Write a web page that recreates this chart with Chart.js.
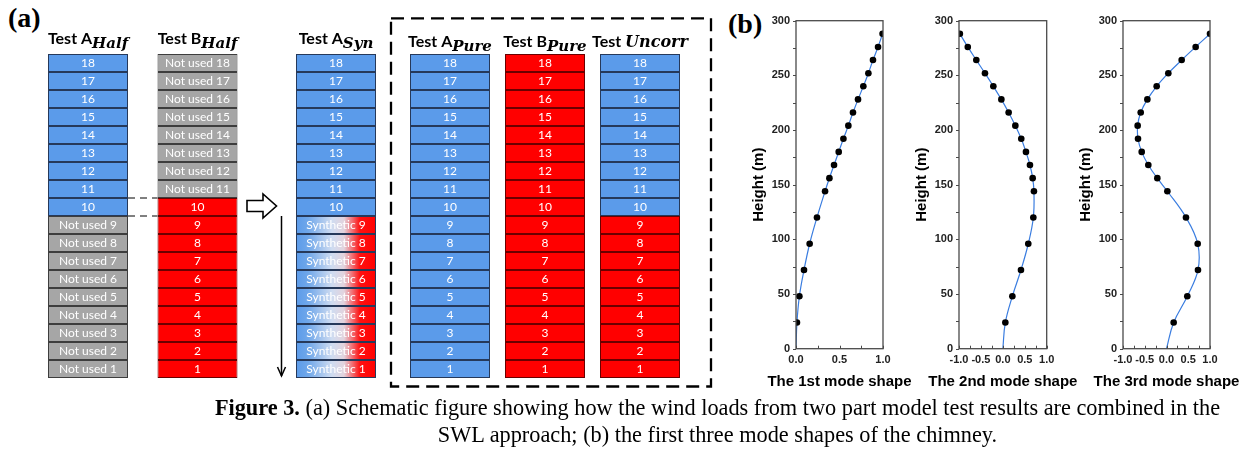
<!DOCTYPE html>
<html><head><meta charset="utf-8">
<script src="https://cdn.jsdelivr.net/npm/chart.js@4.4.0/dist/chart.umd.min.js"></script>
<style>
html,body{margin:0;padding:0;background:#fff;}
#wrap{position:relative;width:1256px;height:456px;overflow:hidden;background:#fff;}
canvas{position:absolute;top:0;}
.plabel{position:absolute;font-family:"Liberation Serif","Times New Roman",serif;font-weight:bold;font-size:28px;line-height:28px;color:#000;}
#cap{position:absolute;left:178px;width:1079px;top:395px;text-align:center;white-space:nowrap;font-family:"Liberation Serif","Times New Roman",serif;font-size:22.3px;line-height:26.5px;color:#000;}
</style></head>
<body><div id="wrap">
<div class="plabel" style="left:8px;top:4px;">(a)</div>
<div class="plabel" style="left:728px;top:10px;">(b)</div>
<canvas id="aLeft" width="260" height="395" style="left:0px;"></canvas>
<canvas id="aMid" width="150" height="395" style="left:236px;"></canvas>
<canvas id="aRight" width="335" height="395" style="left:385px;"></canvas>
<canvas id="m1" width="190" height="400" style="left:740px;"></canvas>
<canvas id="m2" width="190" height="400" style="left:903px;"></canvas>
<canvas id="m3" width="189" height="400" style="left:1067px;"></canvas>
<div id="cap"><b>Figure 3.</b> (a) Schematic figure showing how the wind loads from two part model test results are combined in the<br>SWL approach; (b) the first three mode shapes of the chimney.</div>
</div>
<script>
// ---------- data: schematic (a) ----------
const rowNumbers = [1,2,3,4,5,6,7,8,9,10,11,12,13,14,15,16,17,18];
// cell types per row (row 1 first): A = Test A data, B = Test B data, N = not used, S = synthetic
const halfHeaders = ['Test A','Test B'];
const halfSubs = ['Half','Half'];
const cellsAHalf = ['N','N','N','N','N','N','N','N','N','A','A','A','A','A','A','A','A','A'];
const cellsBHalf = ['B','B','B','B','B','B','B','B','B','B','N','N','N','N','N','N','N','N'];
const synHeaders = ['Test A'];
const synSubs = ['Syn'];
const cellsASyn = ['S','S','S','S','S','S','S','S','S','A','A','A','A','A','A','A','A','A'];
const pureHeaders = ['Test A','Test B','Test '];
const pureSubs = ['Pure','Pure','Uncorr'];
const pureSubInline = [false,false,true];
const cellsAPure = ['A','A','A','A','A','A','A','A','A','A','A','A','A','A','A','A','A','A'];
const cellsBPure = ['B','B','B','B','B','B','B','B','B','B','B','B','B','B','B','B','B','B'];
const cellsUncorr = ['B','B','B','B','B','B','B','B','B','A','A','A','A','A','A','A','A','A'];
const cellPrefix = {A:'',B:'',N:'Not used ',S:'Synthetic '};

// ---------- data: mode shapes (b) ----------
const heights = [24,48,72,96,120,144,156,168,180,192,204,216,228,240,252,264,276,288];
const mode1 = [0.011,0.039,0.092,0.157,0.241,0.334,0.384,0.437,0.491,0.545,0.602,0.655,0.713,0.774,0.832,0.885,0.943,0.995];
const mode2 = [0.057,0.217,0.413,0.580,0.695,0.709,0.680,0.618,0.527,0.420,0.285,0.132,-0.034,-0.217,-0.408,-0.605,-0.800,-0.980];
const mode3 = [0.165,0.478,0.724,0.717,0.448,0.020,-0.211,-0.418,-0.570,-0.655,-0.663,-0.593,-0.440,-0.226,0.042,0.349,0.670,1.000];
const baseHeight = 0, baseShape = 0;
const modeTitles = ['The 1st mode shape','The 2nd mode shape','The 3rd mode shape'];
const modeXRange = [[0,1],[-1,1],[-1,1]];
const heightRange = [0,300];

// ---------- styles ----------
const BLUE='#5b9bea', RED='#ff0000', GRAY='#a6a6a6';
const FILL={A:BLUE,B:RED,N:GRAY};
const EDGE={A:'#26395a',B:'#6a0000',N:'#3d3d3d',S:'#26395a'};

function makeSchematic(id, headers, subs, subInline, columns, pad, barPct, headerBase, extra){
  const fillFn = ctx => {
    const t = columns[ctx.dataIndex][ctx.datasetIndex];
    if (t !== 'S') return FILL[t];
    const ch = ctx.chart, xs = ch.scales.x;
    if (!xs || !ch.chartArea) return BLUE;
    const n = ch.data.labels.length;
    const c = xs.getPixelForValue(ctx.dataIndex);
    const half = xs.width / n * barPct / 2;
    const g = ch.ctx.createLinearGradient(c-half,0,c+half,0);
    g.addColorStop(0,'#5b9bea'); g.addColorStop(0.15,'#6fa7ea');
    g.addColorStop(0.45,'#cfdcf1'); g.addColorStop(0.6,'#e3d3dd');
    g.addColorStop(0.8,'#ff1010'); g.addColorStop(1,'#ff0000');
    return g;
  };
  const plugin = {
    id:'schem_'+id,
    afterDatasetsDraw(chart){
      const c = chart.ctx;
      c.save();
      c.font = '12px Lato'; c.fillStyle = '#fff'; c.textAlign='center'; c.textBaseline='middle';
      chart.data.datasets.forEach((ds,ri)=>{
        chart.getDatasetMeta(ri).data.forEach((el,ci)=>{
          const t = columns[ci][ri];
          c.fillText(cellPrefix[t]+rowNumbers[ri], el.x, (el.y+el.base)/2+0.5);
        });
      });
      const xs = chart.scales.x, top = chart.chartArea.top;
      headers.forEach((h,i)=>{
        const cx = xs.getPixelForValue(i);
        const mainF = 'bold 16px Lato';
        const subF = subInline[i] ? 'bold italic 16px "DejaVu Serif"' : 'bold italic 15px "DejaVu Serif"';
        c.font = mainF; const w1 = c.measureText(h).width;
        c.font = subF; const w2 = c.measureText(subs[i]).width;
        const x0 = cx - (w1+w2)/2;
        const by = top - headerBase;
        c.fillStyle='#000'; c.textAlign='left'; c.textBaseline='alphabetic';
        c.font = mainF; c.fillText(h, x0, by);
        c.font = subF; c.fillText(subs[i], x0+w1, by + (subInline[i]?0:3.5));
      });
      c.restore();
      if (extra) extra(chart);
    }
  };
  return new Chart(document.getElementById(id), {
    type:'bar',
    data:{
      labels: headers.map((h,i)=>h+subs[i]),
      datasets: rowNumbers.map((r,ri)=>({
        label:'Row '+r,
        data: columns.map(()=>[r-1,r]),
        backgroundColor: fillFn,
        borderColor: ctx => EDGE[columns[ctx.dataIndex][ri]],
        borderWidth: 1,
        borderSkipped: false,
        grouped: false,
        barPercentage: barPct,
        categoryPercentage: 1
      }))
    },
    options:{
      responsive:false, animation:false, devicePixelRatio:1,
      layout:{padding:pad},
      plugins:{legend:{display:false},tooltip:{enabled:false}},
      scales:{
        x:{display:false},
        y:{display:false,min:0,max:rowNumbers.length}
      }
    },
    plugins:[plugin]
  });
}

makeSchematic('aLeft', halfHeaders, halfSubs, [false,false], [cellsAHalf,cellsBHalf],
  {left:33.25,right:7.75,top:54,bottom:17}, 80/109.5, 10, chart=>{
    const c = chart.ctx, ys = chart.scales.y;
    const m0 = chart.getDatasetMeta(9).data[0], m1 = chart.getDatasetMeta(9).data[1];
    const xa = m0.x + m0.width/2, xb = m1.x - m1.width/2;
    c.save(); c.strokeStyle='#000'; c.lineWidth=1; c.setLineDash([7,5]);
    [10,9].forEach(v=>{ const y=ys.getPixelForValue(v); c.beginPath(); c.moveTo(xa,y); c.lineTo(xb,y); c.stroke(); });
    c.restore();
  });

makeSchematic('aMid', synHeaders, synSubs, [false], [cellsASyn],
  {left:50,right:0,top:54,bottom:17}, 0.8, 10, chart=>{
    const c = chart.ctx, ys = chart.scales.y, a = chart.chartArea.left;
    const yc = ys.getPixelForValue(9.5) - 1;
    c.save(); c.strokeStyle='#000'; c.fillStyle='#fff'; c.lineWidth=1.6; c.lineJoin='miter';
    c.beginPath();
    c.moveTo(a-39,yc-5.5); c.lineTo(a-23,yc-5.5); c.lineTo(a-23,yc-12); c.lineTo(a-9.5,yc);
    c.lineTo(a-23,yc+12); c.lineTo(a-23,yc+5.5); c.lineTo(a-39,yc+5.5); c.closePath();
    c.fill(); c.stroke();
    const x = a-4.5, y0 = ys.getPixelForValue(9), y1 = ys.getPixelForValue(0)-2;
    c.lineWidth=1.5;
    c.beginPath(); c.moveTo(x,y0); c.lineTo(x,y1); c.stroke();
    c.beginPath(); c.moveTo(x-4,y1-9); c.lineTo(x,y1); c.lineTo(x+4,y1-9); c.stroke();
    c.restore();
  });

makeSchematic('aRight', pureHeaders, pureSubs, pureSubInline, [cellsAPure,cellsBPure,cellsUncorr],
  {left:17.5,right:32.5,top:54,bottom:17}, 80/95, 7, chart=>{
    const c = chart.ctx, ar = chart.chartArea;
    c.save(); c.strokeStyle='#000'; c.lineWidth=2.3; c.setLineDash([13,7]);
    c.strokeRect(ar.left-11.5, 18.3, (ar.right+23.5)-(ar.left-11.5), (ar.bottom+8.5)-18.3);
    c.restore();
  });

// ---------- mode shape charts ----------
const FONT_FAMILY = '"Liberation Sans", Arial, sans-serif';
function makeFrame(title){
  return {
    id:'frame',
    afterDraw(chart){
      const c = chart.ctx, ar = chart.chartArea, xs = chart.scales.x, ys = chart.scales.y;
      c.save(); c.strokeStyle='#4a4a4a'; c.lineWidth=1.3;
      c.strokeRect(ar.left, ar.top, ar.right-ar.left, ar.bottom-ar.top);
      c.lineWidth=1;
      ys.ticks.forEach(t=>{ const y=Math.round(ys.getPixelForValue(t.value))+0.5; c.beginPath(); c.moveTo(ar.left-3,y); c.lineTo(ar.left,y); c.stroke(); });
      xs.ticks.forEach(t=>{ const x=Math.round(xs.getPixelForValue(t.value))+0.5; c.beginPath(); c.moveTo(x,ar.bottom); c.lineTo(x,ar.bottom-3); c.stroke(); });
      c.fillStyle='#000'; c.font='bold 15px '+FONT_FAMILY; c.textAlign='center'; c.textBaseline='middle';
      c.fillText(title, (ar.left+ar.right)/2, 382);
      c.restore();
    }
  };
}

function makeMode(id, shape, range, title, rightPad){
  const curve = [{x:baseShape,y:baseHeight}].concat(heights.map((h,i)=>({x:shape[i],y:h})));
  const pts = heights.map((h,i)=>({x:shape[i],y:h}));
  const tickFont = {family:FONT_FAMILY, size:11, weight:'bold'};
  const titleFont = {family:FONT_FAMILY, size:15, weight:'bold'};
  return new Chart(document.getElementById(id), {
    type:'scatter',
    data:{datasets:[
      {type:'line', data:curve, borderColor:'#3a7de0', borderWidth:1.2, pointRadius:0, tension:0.4, fill:false, order:2},
      {data:pts, pointRadius:3.3, pointBackgroundColor:'#000', pointBorderWidth:0, showLine:false, order:1}
    ]},
    options:{
      responsive:false, animation:false, devicePixelRatio:1,
      layout:{padding:{left:0,top:20.7,right:rightPad,bottom:0}},
      plugins:{legend:{display:false},tooltip:{enabled:false}},
      scales:{
        x:{type:'linear', min:range[0], max:range[1],
           grid:{display:false, drawTicks:false}, border:{display:false},
           ticks:{stepSize:0.25, autoSkip:false, maxRotation:0, padding:5, color:'#222', font:tickFont,
             callback:v=> (Math.abs(v*2-Math.round(v*2))<1e-6) ? v.toFixed(1) : ''},
           afterFit:s=>{ s.height = 51.3; s.paddingLeft=0; s.paddingRight=0; }},
        y:{type:'linear', min:heightRange[0], max:heightRange[1],
           grid:{display:false, drawTicks:false}, border:{display:false},
           ticks:{stepSize:25, autoSkip:false, padding:6, color:'#222', font:tickFont,
             callback:v=> (v%50===0) ? String(v) : ''},
           title:{display:true, text:'Height (m)', color:'#000', font:titleFont, padding:{top:9.5,bottom:0}},
           afterFit:s=>{ s.width = 56; s.paddingTop=0; s.paddingBottom=0; }}
      }
    },
    plugins:[makeFrame(title)]
  });
}

makeMode('m1', mode1, modeXRange[0], modeTitles[0], 47);
makeMode('m2', mode2, modeXRange[1], modeTitles[1], 46.3);
makeMode('m3', mode3, modeXRange[2], modeTitles[2], 46);
</script>
</body></html>
